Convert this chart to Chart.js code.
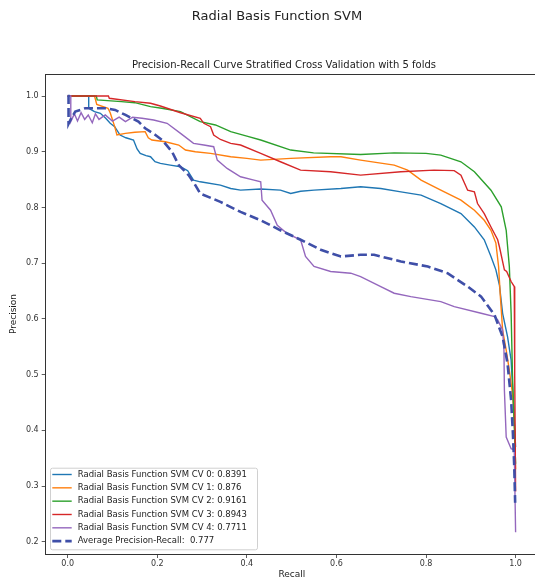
<!DOCTYPE html>
<html>
<head>
<meta charset="utf-8">
<script src="https://cdn.jsdelivr.net/npm/chart.js@4.4.0/dist/chart.umd.min.js"></script>
<style>
  html, body { margin: 0; padding: 0; background: #fff; }
  #wrap { position: relative; width: 535px; height: 583px; overflow: hidden; font-family: 'DejaVu Sans', sans-serif; color: #222; }
  #wrap canvas { position: absolute; left: 0; top: 0; }
  .title { position: absolute; left: 0; text-align: center; white-space: nowrap; line-height: 1; }
  #suptitle { top: 9.2px; width: 554px; font-size: 13px; }
  #axtitle { top: 59.8px; width: 568px; font-size: 10px; }
</style>
</head>
<body>
<div id="wrap">
  <canvas id="pr-chart" width="545" height="583"></canvas>
  <div class="title" id="suptitle">Radial Basis Function SVM</div>
  <div class="title" id="axtitle">Precision-Recall Curve Stratified Cross Validation with 5 folds</div>
</div>
<script>
// [recall, precision] points for each fold
const cv0 = [[0,1.0],[0.047,1.0],[0.047,0.978],[0.06,0.972],[0.073,0.969],[0.085,0.96],[0.095,0.951],[0.105,0.945],[0.117,0.93],[0.13,0.925],[0.147,0.921],[0.155,0.905],[0.162,0.897],[0.175,0.893],[0.185,0.891],[0.195,0.882],[0.207,0.879],[0.229,0.876],[0.252,0.873],[0.268,0.866],[0.281,0.849],[0.296,0.846],[0.341,0.840],[0.364,0.834],[0.386,0.831],[0.431,0.833],[0.475,0.831],[0.498,0.825],[0.52,0.829],[0.55,0.831],[0.61,0.834],[0.654,0.837],[0.699,0.834],[0.744,0.828],[0.789,0.822],[0.833,0.807],[0.878,0.789],[0.908,0.765],[0.93,0.742],[0.945,0.712],[0.956,0.688],[0.964,0.66],[0.971,0.61],[0.982,0.568],[0.99,0.526],[0.995,0.45],[1.0,0.37]];
const cv1 = [[0,1.0],[0.06,1.0],[0.065,0.985],[0.09,0.978],[0.095,0.97],[0.099,0.96],[0.105,0.945],[0.11,0.93],[0.129,0.933],[0.15,0.935],[0.173,0.936],[0.18,0.925],[0.188,0.921],[0.218,0.918],[0.248,0.912],[0.263,0.903],[0.285,0.90],[0.319,0.897],[0.364,0.891],[0.40,0.888],[0.431,0.885],[0.498,0.888],[0.587,0.891],[0.61,0.891],[0.654,0.885],[0.729,0.876],[0.759,0.867],[0.789,0.849],[0.833,0.831],[0.878,0.813],[0.908,0.795],[0.93,0.777],[0.945,0.759],[0.956,0.736],[0.962,0.694],[0.966,0.64],[0.971,0.58],[0.979,0.544],[0.986,0.508],[0.994,0.46],[0.998,0.40],[1.0,0.33]];
const cv2 = [[0,1.0],[0.064,1.0],[0.066,0.993],[0.12,0.99],[0.15,0.988],[0.185,0.981],[0.21,0.978],[0.252,0.972],[0.296,0.954],[0.33,0.948],[0.364,0.936],[0.40,0.928],[0.431,0.921],[0.498,0.903],[0.549,0.898],[0.654,0.895],[0.729,0.898],[0.80,0.897],[0.833,0.894],[0.878,0.882],[0.908,0.864],[0.945,0.831],[0.968,0.801],[0.979,0.759],[0.986,0.694],[0.99,0.61],[0.993,0.50],[1.0,0.34]];
const cv3 = [[0,1.0],[0.091,1.0],[0.093,0.996],[0.15,0.99],[0.185,0.987],[0.207,0.982],[0.252,0.970],[0.296,0.960],[0.304,0.951],[0.319,0.945],[0.326,0.930],[0.341,0.922],[0.364,0.915],[0.386,0.912],[0.431,0.897],[0.475,0.882],[0.52,0.867],[0.587,0.864],[0.654,0.858],[0.744,0.864],[0.818,0.867],[0.863,0.866],[0.878,0.858],[0.893,0.831],[0.908,0.828],[0.915,0.807],[0.93,0.789],[0.945,0.765],[0.96,0.742],[0.964,0.729],[0.975,0.688],[0.98,0.685],[0.99,0.667],[0.997,0.658],[0.998,0.50],[1.0,0.29]];
const cv4 = [[0,1.0],[0.007,1.0],[0.007,0.954],[0.015,0.968],[0.022,0.955],[0.03,0.97],[0.038,0.958],[0.046,0.966],[0.055,0.952],[0.062,0.968],[0.07,0.958],[0.084,0.966],[0.10,0.955],[0.115,0.962],[0.129,0.954],[0.145,0.962],[0.166,0.960],[0.192,0.957],[0.222,0.951],[0.252,0.933],[0.281,0.915],[0.304,0.912],[0.326,0.909],[0.334,0.885],[0.356,0.870],[0.386,0.855],[0.416,0.849],[0.431,0.846],[0.434,0.813],[0.453,0.795],[0.468,0.768],[0.49,0.753],[0.52,0.742],[0.531,0.712],[0.55,0.694],[0.587,0.685],[0.632,0.682],[0.654,0.676],[0.699,0.658],[0.729,0.646],[0.766,0.640],[0.833,0.631],[0.863,0.622],[0.923,0.610],[0.953,0.604],[0.96,0.598],[0.971,0.58],[0.974,0.544],[0.975,0.472],[0.979,0.388],[0.99,0.367],[0.997,0.365],[1.0,0.217]];
const average = [[0,1.0],[0.002,1.0],[0.002,0.95],[0.008,0.96],[0.017,0.972],[0.039,0.978],[0.084,0.978],[0.106,0.975],[0.129,0.966],[0.158,0.954],[0.173,0.942],[0.196,0.930],[0.211,0.921],[0.233,0.90],[0.248,0.876],[0.27,0.858],[0.285,0.84],[0.296,0.825],[0.341,0.81],[0.386,0.792],[0.431,0.777],[0.475,0.759],[0.52,0.742],[0.565,0.724],[0.61,0.712],[0.654,0.715],[0.684,0.715],[0.744,0.703],[0.804,0.694],[0.848,0.682],[0.893,0.658],[0.923,0.64],[0.953,0.607],[0.971,0.568],[0.982,0.52],[0.99,0.454],[0.994,0.394],[0.997,0.335],[0.999,0.27]];

const foldScores = ['0.8391', '0.876', '0.9161', '0.8943', '0.7711'];
const averageScore = '0.777';
const foldColors = ['#1f77b4', '#ff7f0e', '#2ca02c', '#d62728', '#9467bd'];
const recallTicks = [0.0, 0.2, 0.4, 0.6, 0.8, 1.0];
const precisionTicks = [0.2, 0.3, 0.4, 0.5, 0.6, 0.7, 0.8, 0.9, 1.0];

Chart.defaults.font.family = "'DejaVu Sans', sans-serif";
Chart.defaults.color = '#333';

const toPoints = arr => arr.map(p => ({ x: p[0], y: p[1] }));

const folds = [cv0, cv1, cv2, cv3, cv4];
const datasets = folds.map((f, i) => ({
    label: 'Radial Basis Function SVM CV ' + i + ': ' + foldScores[i],
    data: toPoints(f),
    borderColor: foldColors[i],
    borderWidth: 1.4,
    order: 6 - i
}));
datasets.push({
    label: 'Average Precision-Recall:  ' + averageScore,
    data: toPoints(average),
    borderColor: '#3f4fa8',
    borderWidth: 2.6,
    borderDash: [9, 4],
    order: 0
});

// top spine (the right one falls outside the visible area)
const frame = {
    id: 'frame',
    afterDraw(chart) {
        const { ctx, chartArea: a } = chart;
        ctx.save();
        ctx.strokeStyle = '#333';
        ctx.lineWidth = 1;
        ctx.beginPath();
        ctx.moveTo(a.left, a.top + 0.5);
        ctx.lineTo(chart.width, a.top + 0.5);
        ctx.stroke();
        ctx.restore();
    }
};

// legend box in the lower left corner of the plot
const boxLegend = {
    id: 'boxLegend',
    afterDraw(chart) {
        const { ctx, chartArea: a } = chart;
        const sets = chart.data.datasets;
        const w = 207, rowH = 13.33;
        const h = 81.6;
        const x0 = a.left + 4.3, y0 = a.bottom - 4.7 - h;
        ctx.save();
        ctx.fillStyle = 'rgba(255,255,255,0.8)';
        ctx.strokeStyle = '#d0d0d0';
        ctx.lineWidth = 1;
        ctx.beginPath();
        ctx.roundRect(x0 + 0.5, y0 + 0.5, w, h, 2);
        ctx.fill();
        ctx.stroke();
        ctx.font = "8.5px 'DejaVu Sans', sans-serif";
        ctx.textBaseline = 'middle';
        sets.forEach((ds, i) => {
            const y = y0 + 6.8 + i * rowH;
            ctx.strokeStyle = ds.borderColor;
            ctx.lineWidth = ds.borderWidth;
            ctx.setLineDash(ds.borderDash || []);
            ctx.beginPath();
            ctx.moveTo(x0 + 2.3, y);
            ctx.lineTo(x0 + 21.7, y);
            ctx.stroke();
            ctx.setLineDash([]);
            ctx.fillStyle = '#222';
            ctx.fillText(ds.label, x0 + 27.7, y);
        });
        ctx.restore();
    }
};

const ctx = document.getElementById('pr-chart').getContext('2d');
new Chart(ctx, {
    type: 'scatter',
    data: { datasets: datasets },
    options: {
        responsive: false,
        animation: false,
        showLine: true,
        elements: {
            point: { radius: 0, hoverRadius: 0 },
            line: { tension: 0, fill: false }
        },
        layout: { padding: { top: 74, right: 7, left: 0, bottom: 0 } },
        plugins: {
            legend: { display: false },
            tooltip: { enabled: false }
        },
        scales: {
            x: {
                type: 'linear',
                min: -0.049,
                max: 1.05,
                afterBuildTicks: s => { s.ticks = recallTicks.map(v => ({ value: v })); },
                afterFit: s => { s.height = 29; },
                ticks: {
                    callback: v => v.toFixed(1),
                    font: { size: 8 },
                    color: '#333',
                    padding: 1,
                    maxRotation: 0,
                    autoSkip: false
                },
                grid: { display: true, drawOnChartArea: false, drawTicks: true, tickLength: 4, tickColor: '#333', tickWidth: 0.8 },
                border: { display: true, color: '#333', width: 1 },
                title: { display: true, text: 'Recall', font: { size: 9 }, color: '#222', padding: { top: 0, bottom: 2.5 } }
            },
            y: {
                type: 'linear',
                min: 0.178,
                max: 1.0395,
                afterBuildTicks: s => { s.ticks = precisionTicks.map(v => ({ value: v })); },
                afterFit: s => { s.width = 45.7; },
                ticks: {
                    callback: v => v.toFixed(1),
                    font: { size: 8 },
                    color: '#333',
                    padding: 3,
                    autoSkip: false
                },
                grid: { display: true, drawOnChartArea: false, drawTicks: true, tickLength: 4, tickColor: '#333', tickWidth: 0.8 },
                border: { display: true, color: '#333', width: 1 },
                title: { display: true, text: 'Precision', font: { size: 9 }, color: '#222', padding: { top: 8.6, bottom: 0 } }
            }
        }
    },
    plugins: [frame, boxLegend]
});
</script>
</body>
</html>
